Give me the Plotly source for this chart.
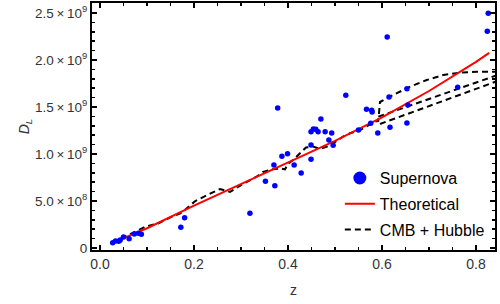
import numpy as np
import plotly.graph_objects as go

# Supernova data (z, D_L in units of 1e9)
sn_z = [0.027, 0.033, 0.040, 0.043, 0.050, 0.062, 0.073, 0.082, 0.088, 0.172, 0.180,
        0.319, 0.352, 0.372, 0.370, 0.387, 0.399, 0.378, 0.413, 0.428, 0.449, 0.449,
        0.449, 0.454, 0.459, 0.464, 0.470, 0.479, 0.487, 0.493, 0.496, 0.523,
        0.550, 0.567, 0.578, 0.579, 0.576, 0.591, 0.617, 0.615, 0.611, 0.653, 0.655,
        0.653, 0.761, 0.824, 0.826]
sn_d = [0.056, 0.074, 0.071, 0.085, 0.117, 0.099, 0.149, 0.156, 0.146, 0.220, 0.322,
        0.369, 0.709, 0.663, 0.883, 0.975, 1.003, 1.489, 0.883, 0.798, 0.943, 1.096,
        1.237, 1.266, 1.263, 1.237, 1.372, 1.237, 1.149, 1.223, 1.092, 1.624,
        1.255, 1.475, 1.465, 1.447, 1.326, 1.223, 1.284, 1.606, 2.245, 1.695, 1.521,
        1.330, 1.710, 2.305, 2.496]

# Theoretical curve
th_z = [0.024, 0.1, 0.2, 0.3, 0.4, 0.5, 0.6, 0.7, 0.8, 0.828]
th_d = [0.050, 0.21, 0.45, 0.68, 0.905, 1.14, 1.39, 1.67, 1.98, 2.075]

# CMB + Hubble (three pieces)
cmb_a_z = [0.0255, 0.0538, 0.0751, 0.0964, 0.1249, 0.1532, 0.1709, 0.183, 0.2028, 0.2313,
           0.2553, 0.2766, 0.3043, 0.334, 0.3468, 0.368, 0.383, 0.3936, 0.40, 0.4106,
           0.4213, 0.4383, 0.4532, 0.4638, 0.4723, 0.483, 0.4936, 0.5064, 0.517, 0.5319,
           0.5532, 0.5851, 0.5921, 0.5957, 0.6064, 0.624, 0.6596, 0.6951, 0.7304, 0.766,
           0.8015, 0.85]
cmb_a_d = [0.056, 0.120, 0.173, 0.227, 0.263, 0.333, 0.369, 0.415, 0.500, 0.570,
           0.628, 0.596, 0.681, 0.761, 0.809, 0.837, 0.846, 0.837, 0.894, 0.936,
           0.989, 1.069, 1.080, 1.061, 1.061, 1.078, 1.106, 1.149, 1.184, 1.220,
           1.255, 1.344, 1.351, 1.553, 1.582, 1.628, 1.716, 1.787, 1.840, 1.865,
           1.876, 1.876]
cmb_b_z = [0.5921, 0.85]
cmb_b_d = [1.397, 1.847]
cmb_c_z = [0.5957, 0.85]
cmb_c_d = [1.319, 1.784]

x_ticks = [0.0, 0.2, 0.4, 0.6, 0.8]
x_ticktext = ["0.0", "0.2", "0.4", "0.6", "0.8"]
y_ticks = [0.0, 0.5, 1.0, 1.5, 2.0, 2.5]
y_ticktext = ["0", "5.0\u2009\u00d7\u200910<sup>8</sup>", "1.0\u2009\u00d7\u200910<sup>9</sup>",
              "1.5\u2009\u00d7\u200910<sup>9</sup>", "2.0\u2009\u00d7\u200910<sup>9</sup>",
              "2.5\u2009\u00d7\u200910<sup>9</sup>"]

E9 = 1e9
cmb_z = cmb_a_z + [None] + cmb_b_z + [None] + cmb_c_z
cmb_d = [v * E9 for v in cmb_a_d] + [None] + [v * E9 for v in cmb_b_d] + [None] + [v * E9 for v in cmb_c_d]

fig = go.Figure()
fig.add_trace(go.Scatter(x=cmb_z, y=cmb_d, mode="lines", name="CMB + Hubble",
                         line=dict(color="black", width=2, dash="6px,4px"),
                         connectgaps=False, legendgroup="c", legendrank=3))
fig.add_trace(go.Scatter(x=th_z, y=[v * E9 for v in th_d], mode="lines", name="Theoretical",
                         line=dict(color="#ff0000", width=2), legendgroup="b", legendrank=2))
fig.add_trace(go.Scatter(x=sn_z, y=[v * E9 for v in sn_d], mode="markers", name="Supernova",
                         marker=dict(color="#0000ff", size=5.5), legendgroup="a",
                         showlegend=False))
# legend entry for the supernova markers (larger symbol as in the reference legend)
fig.add_trace(go.Scatter(x=[None], y=[None], mode="markers", name="Supernova",
                         marker=dict(color="#0000ff", size=13), legendgroup="a", legendrank=1))

font = "Liberation Sans, Arial, sans-serif"
axis_common = dict(showline=True, linecolor="black", linewidth=2, mirror="ticks",
                   ticks="inside", ticklen=5, tickwidth=2, tickcolor="black",
                   showgrid=False, zeroline=False, automargin=False)

fig.update_xaxes(range=[-0.017, 0.8404], tickvals=x_ticks, ticktext=x_ticktext,
                 tickfont=dict(family=font, size=14, color="#333333"),
                 minor=dict(dtick=0.05, tick0=0, ticks="inside", ticklen=3, tickwidth=1.5, tickcolor="black"),
                 title=dict(text="z", font=dict(family=font, size=14, color="#333333"), standoff=14),
                 **axis_common)
fig.update_yaxes(range=[-0.0213 * E9, 2.606 * E9], tickvals=[v * E9 for v in y_ticks], ticktext=y_ticktext,
                 tickfont=dict(family=font, size=13.5, color="#333333"),
                 minor=dict(dtick=1e8, tick0=0, ticks="inside", ticklen=3, tickwidth=1.5, tickcolor="black"),
                 title=dict(text="<i>D</i><sub><i>L</i></sub>", font=dict(family=font, size=14, color="#333333"),
                            standoff=2),
                 **axis_common)

fig.update_layout(
    width=500, height=304,
    margin=dict(l=92, r=5, t=3, b=54),
    plot_bgcolor="white", paper_bgcolor="white",
    showlegend=True,
    legend=dict(x=0.615, y=0.36, xanchor="left", yanchor="top",
                bgcolor="rgba(0,0,0,0)", font=dict(family=font, size=16, color="black"),
                traceorder="grouped", tracegroupgap=2, itemwidth=30),
)

fig.write_html("out.html", config={"displayModeBar": False, "staticPlot": True})

# remove the default page margin so the 500x304 figure fills the window exactly
with open("out.html", "r", encoding="utf-8") as f:
    html = f.read()
html = html.replace("<head>", "<head><style>html,body{margin:0;padding:0;overflow:hidden;}</style>", 1)
with open("out.html", "w", encoding="utf-8") as f:
    f.write(html)
